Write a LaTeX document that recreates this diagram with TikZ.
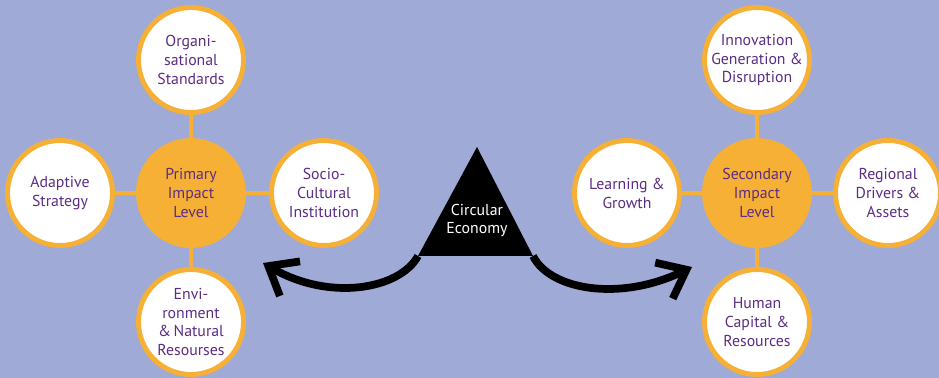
\documentclass[tikz,border=0pt]{standalone}
\usepackage{fontspec}
\setmainfont{PT Sans}
\usetikzlibrary{arrows.meta}

\definecolor{bgblue}{HTML}{A0AAD6}
\definecolor{ringorange}{HTML}{F6B035}
\definecolor{labelpurple}{HTML}{5C2D83}

\begin{document}
\begin{tikzpicture}[
    leaf/.style={circle, draw=ringorange, line width=2.8pt, fill=white,
                 minimum size=2.1cm, inner sep=0pt, align=center,
                 text=labelpurple, font=\fontsize{9}{10.8}\selectfont},
    hub/.style={leaf, fill=ringorange},
    spoke/.style={ringorange, line width=2.8pt},
    swoosh/.style={line width=4.4pt, -{Straight Barb[length=5mm, width=8mm]}}
]
    % 背景
    \useasboundingbox (0, 0) rectangle (18.78, 7.56);
    \fill[bgblue] (0, 0) rectangle (18.78, 7.56);

    % 左侧：一级影响
    \node[hub]  (prim) at (3.82, 3.70) {Primary\\Impact\\Level};
    \node[leaf] (org)  at (3.82, 6.36) {Organi-\\sational\\Standards};
    \node[leaf] (adap) at (1.20, 3.70) {Adaptive\\Strategy};
    \node[leaf] (soc)  at (6.48, 3.70) {Socio-\\Cultural\\Institution};
    \node[leaf] (env)  at (3.82, 1.12) {Envi-\\ronment\\\&\,Natural\\Resourses};

    \draw[spoke] (prim) -- (org);
    \draw[spoke] (prim) -- (adap);
    \draw[spoke] (prim) -- (soc);
    \draw[spoke] (prim) -- (env);

    % 右侧：二级影响
    \node[hub]  (sec)  at (15.14, 3.70) {Secondary\\Impact\\Level};
    \node[leaf] (inno) at (15.14, 6.36) {Innovation\\Generation \&\\Disruption};
    \node[leaf] (learn) at (12.54, 3.70) {Learning \&\\Growth};
    \node[leaf] (reg)  at (17.76, 3.70) {Regional\\Drivers \&\\Assets};
    \node[leaf] (hum)  at (15.14, 1.12) {Human\\Capital \&\\Resources};

    \draw[spoke] (sec) -- (inno);
    \draw[spoke] (sec) -- (learn);
    \draw[spoke] (sec) -- (reg);
    \draw[spoke] (sec) -- (hum);

    % 中间三角形
    \coordinate (apex)  at (9.54, 4.62);
    \coordinate (baseL) at (8.36, 2.44);
    \coordinate (baseR) at (10.66, 2.44);
    \fill[black] (apex) -- (baseR) -- (baseL) -- cycle;
    \node[text=white, align=center, font=\fontsize{9}{10.8}\selectfont] (circ)
        at (9.54, 3.15) {Circular\\Economy};

    % 两侧弯箭头
    \coordinate (tipL) at (5.26, 2.30);
    \coordinate (tipR) at (13.84, 2.22);
    \draw[swoosh] (baseL) .. controls (8.0, 1.78) and (6.6, 1.52) .. (tipL);
    \draw[swoosh] (baseR) .. controls (11.0, 1.76) and (12.4, 1.52) .. (tipR);
\end{tikzpicture}
\end{document}
